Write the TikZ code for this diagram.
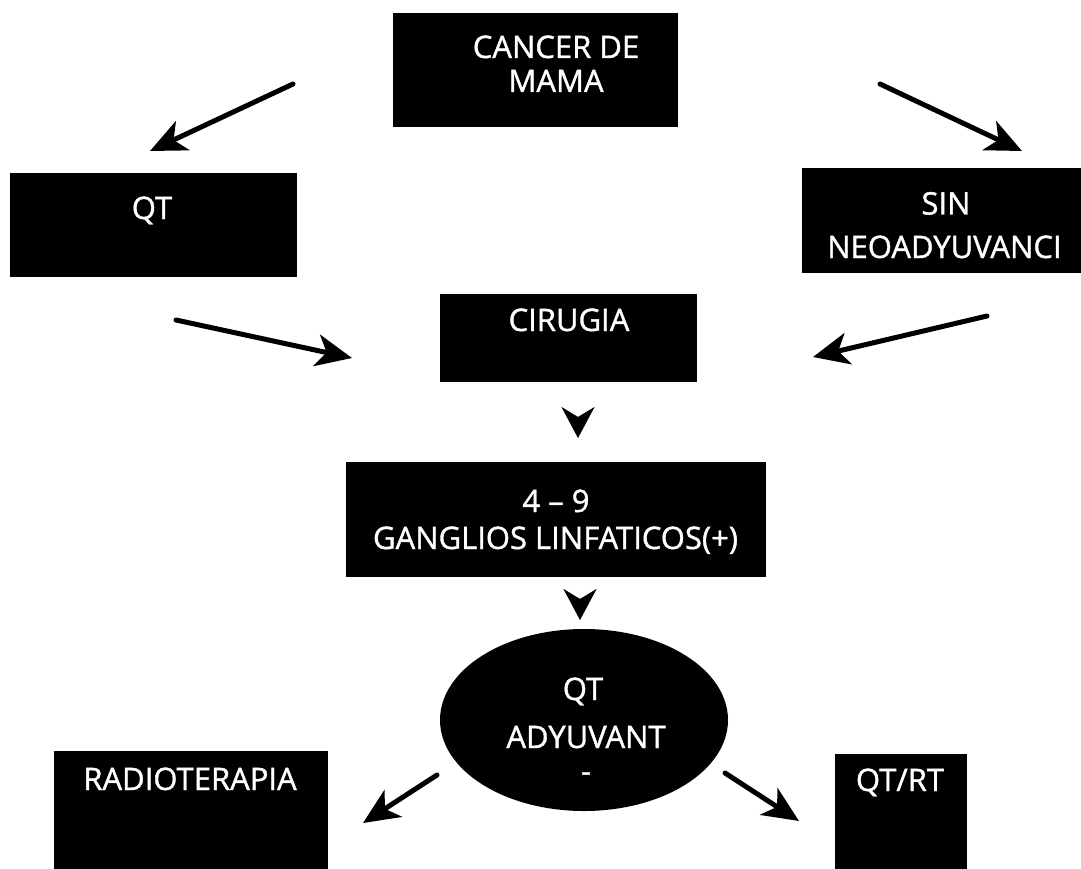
\documentclass[tikz,border=0pt]{standalone}
\usepackage{fontspec}
\newfontfamily\lblfont[FakeBold=1.2]{Open Sans}
\usetikzlibrary{arrows.meta,shapes.geometric}
\tikzset{
  blk/.style={fill=black, draw=none, rectangle, inner sep=0pt},
  blkell/.style={fill=black, draw=none, ellipse, inner sep=0pt},
  txt/.style={text=white, font=\lblfont\fontsize{31pt}{36pt}\selectfont, inner sep=0pt, text height=22pt, text depth=0pt},
  arr/.style={line width=5pt, line cap=round, -{Stealth[length=36pt,width=32pt,inset=10pt]}},
  headonly/.style={line width=0.5pt, -{Stealth[length=31pt,width=33pt,inset=10pt]}}
}
\begin{document}
\begin{tikzpicture}[x=1pt,y=-1pt]
\useasboundingbox (0,0) rectangle (1081,869);
\clip (0,0) rectangle (1081,869);
% boxes
\node[blk, minimum width=285pt, minimum height=114pt] (cancer) at (535.5,70) {};
\node[blk, minimum width=287pt, minimum height=104pt] (qt) at (153.5,225) {};
\node[blk, minimum width=279pt, minimum height=105pt] (sin) at (941.5,220.5) {};
\node[blk, minimum width=257pt, minimum height=88pt] (cirugia) at (568.5,338) {};
\node[blk, minimum width=420pt, minimum height=115pt] (ganglios) at (556,519.5) {};
\node[blkell, minimum width=288pt, minimum height=182pt] (qtadj) at (584,720) {};
\node[blk, minimum width=274pt, minimum height=118pt] (radio) at (191,810) {};
\node[blk, minimum width=132pt, minimum height=115pt] (qtrt) at (901,811.5) {};
% texts
\node[txt] (t1a) at (556,47) {CANCER DE};
\node[txt] (t1b) at (556,81) {MAMA};
\node[txt] (t2) at (152,208) {QT};
\node[txt] (t3a) at (946,203.5) {SIN};
\node[txt, anchor=west] (t3b) at (827,247) {NEOADYUVANCI};
\node[txt] (t4) at (569,320) {CIRUGIA};
\node[txt] (t5a) at (556,501) {4 – 9};
\node[txt] (t5b) at (555.5,538) {GANGLIOS LINFATICOS(+)};
\node[txt] (t6a) at (583,689) {QT};
\node[txt] (t6b) at (586,737) {ADYUVANT};
\node[text=white, font=\lblfont\fontsize{31pt}{36pt}\selectfont, inner sep=0pt] (t6c) at (586,777) {-};
\node[txt] (t7) at (190,779) {RADIOTERAPIA};
\node[txt] (t8) at (900,780) {QT/RT};
% connector end points
\coordinate (c1s) at (293,84);  \coordinate (c1e) at (150,151);
\coordinate (c2s) at (880,84);  \coordinate (c2e) at (1022,151);
\coordinate (c3s) at (176,320); \coordinate (c3e) at (352,358);
\coordinate (c4s) at (987,316); \coordinate (c4e) at (813,357);
\coordinate (c5s) at (578,417); \coordinate (c5e) at (578,438);
\coordinate (c6s) at (580,599); \coordinate (c6e) at (580,620);
\coordinate (c7s) at (437,775); \coordinate (c7e) at (363,823);
\coordinate (c8s) at (725,773); \coordinate (c8e) at (799,821);
% connectors
\draw[arr] (c1s) -- (c1e);
\draw[arr] (c2s) -- (c2e);
\draw[arr] (c3s) -- (c3e);
\draw[arr] (c4s) -- (c4e);
\draw[headonly] (c5s) -- (c5e);
\draw[headonly] (c6s) -- (c6e);
\draw[arr] (c7s) -- (c7e);
\draw[arr] (c8s) -- (c8e);
\end{tikzpicture}
\end{document}
